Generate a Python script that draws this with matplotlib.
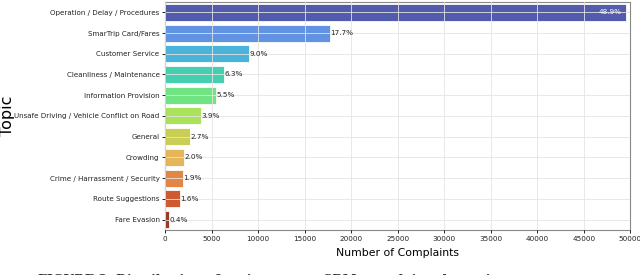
import matplotlib
matplotlib.use("Agg")
import matplotlib.pyplot as plt
import numpy as np

topics = [
    "Operation / Delay / Procedures",
    "SmarTrip Card/Fares",
    "Customer Service",
    "Cleanliness / Maintenance",
    "Information Provision",
    "Unsafe Driving / Vehicle Conflict on Road",
    "General",
    "Crowding",
    "Crime / Harrassment / Security",
    "Route Suggestions",
    "Fare Evasion",
]
counts = [49500, 17700, 9000, 6300, 5500, 3900, 2700, 2000, 1900, 1600, 400]
pct_labels = ["48.9%", "17.7%", "9.0%", "6.3%", "5.5%", "3.9%", "2.7%", "2.0%", "1.9%", "1.6%", "0.4%"]

# palette (turbo-like)
palette = ["#4a52a8", "#5a8ce1", "#40afd7", "#3acdaa", "#68e27c", "#a3e250",
           "#c8cd4b", "#e4b250", "#e1803c", "#cd5026", "#9b2d19"]

fig = plt.figure(figsize=(6.4, 2.75), dpi=100)
ax = fig.add_axes([0.258, 0.164, 0.727, 0.829])

y = np.arange(len(topics))
ax.barh(y, counts, color=palette, alpha=0.95, edgecolor="white", linewidth=0.6,
        height=0.82, zorder=2)
ax.set_yticks(y)
ax.set_yticklabels(topics, fontsize=5.1, color="#222222")
ax.set_ylim(len(topics) - 0.5, -0.5)
ax.set_xlim(0, 50000)
ax.set_xticks(np.arange(0, 50001, 5000))
ax.tick_params(axis="x", labelsize=5.2, length=2.5, width=0.6, pad=2, labelcolor="#222222")
ax.tick_params(axis="y", length=2.5, width=0.6, pad=1.5)
ax.grid(True, color="#e4e4e4", linewidth=0.6, zorder=3)
ax.set_axisbelow(False)
for s in ax.spines.values():
    s.set_color("#888888")
    s.set_linewidth(0.8)

for i, (c, lab) in enumerate(zip(counts, pct_labels)):
    if i == 0:
        ax.text(c - 450, i, lab, ha="right", va="center", fontsize=5.2, color="white", zorder=4)
    else:
        ax.text(c + 30, i, lab, ha="left", va="center", fontsize=5.2, color="#222222", zorder=4)

ax.set_xlabel("Number of Complaints", fontsize=7.8, labelpad=4)
ax.set_ylabel("Topic", fontsize=11.5)
ax.yaxis.set_label_coords(-0.322, 0.5)

fig.text(0.06, -0.033, "FIGURE 2  Distribution of topics among CRM complaints by topic",
         fontsize=9, fontweight="bold", family="DejaVu Serif", color="#333333", va="baseline")

fig.savefig("out.png", dpi=100)
plt.close(fig)
